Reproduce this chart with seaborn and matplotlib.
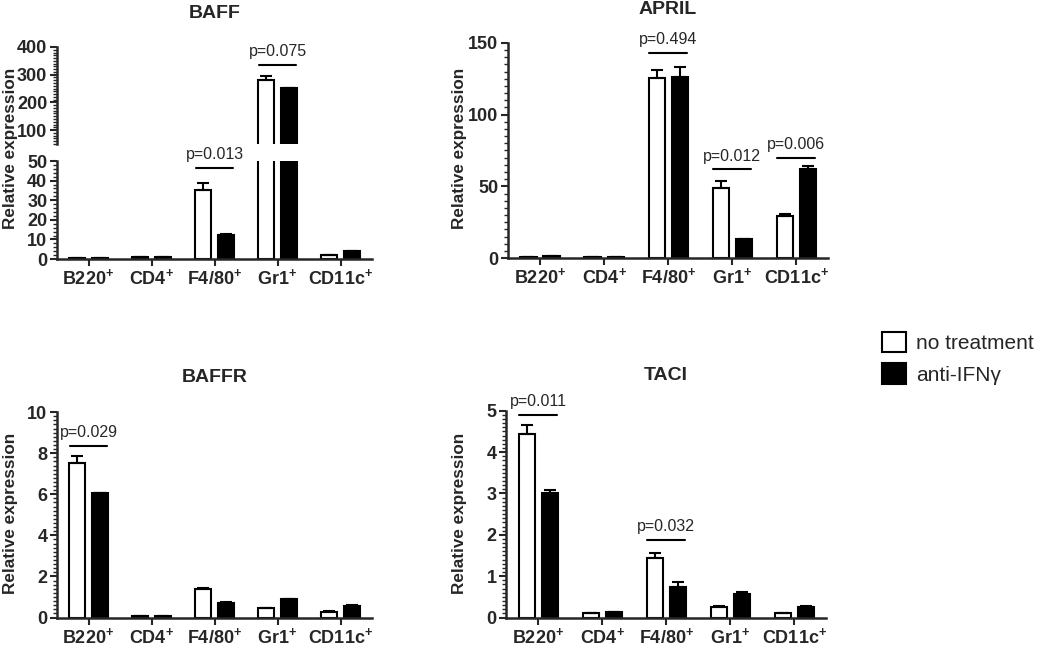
import numpy as np
import pandas as pd
import matplotlib
matplotlib.use("Agg")
import matplotlib.pyplot as plt
from matplotlib.ticker import MultipleLocator
import seaborn as sns

sns.set_style("ticks")
plt.rcParams['font.family'] = ['Liberation Sans', 'DejaVu Sans']
plt.rcParams['mathtext.default'] = 'regular'

cells = ["B220$^{+}$", "CD4$^{+}$", "F4/80$^{+}$", "Gr1$^{+}$", "CD11c$^{+}$"]
groups = ["no treatment", "anti-IFNγ"]

# valores (media e erro para cima)
baff_nt = [0.5, 0.8, 35.2, 282, 2.2]
baff_nt_err = [0, 0, 3.6, 12, 0]
baff_ab = [0.6, 0.8, 12.3, 253, 4.2]
baff_ab_err = [0, 0, 0.4, 0, 0]

april_nt = [0.8, 0.4, 125.6, 48.5, 29]
april_nt_err = [0, 0, 5.5, 5.5, 1.5]
april_ab = [1.2, 0.7, 126, 13, 62]
april_ab_err = [0, 0, 7.5, 0, 2.5]

baffr_nt = [7.5, 0.05, 1.38, 0.45, 0.28]
baffr_nt_err = [0.36, 0, 0.06, 0, 0.03]
baffr_ab = [6.05, 0.07, 0.7, 0.88, 0.58]
baffr_ab_err = [0, 0, 0.04, 0.02, 0.02]

taci_nt = [4.45, 0.12, 1.43, 0.26, 0.1]
taci_nt_err = [0.2, 0, 0.13, 0.01, 0.02]
taci_ab = [3.0, 0.14, 0.73, 0.58, 0.26]
taci_ab_err = [0.08, 0, 0.13, 0.03, 0.01]

# (indice da celula, altura da linha, texto)
baff_p = [(2, 46.5, "p=0.013"), (3, 336, "p=0.075")]
april_p = [(2, 143, "p=0.494"), (3, 62, "p=0.012"), (4, 70, "p=0.006")]
baffr_p = [(0, 8.35, "p=0.029")]
taci_p = [(0, 4.9, "p=0.011"), (2, 1.88, "p=0.032")]

pal = {"no treatment": "white", "anti-IFNγ": "black"}


def make_df(nt, ab):
    return pd.DataFrame({
        "cell": cells * 2,
        "group": [groups[0]] * 5 + [groups[1]] * 5,
        "value": list(nt) + list(ab),
    })


def bars(ax, nt, ab, nt_err, ab_err):
    df = make_df(nt, ab)
    sns.barplot(data=df, x="cell", y="value", hue="group", palette=pal,
                edgecolor="black", linewidth=1.5, width=0.72, gap=0.3,
                errorbar=None, ax=ax, legend=False)
    for cont, err in zip(ax.containers, [nt_err, ab_err]):
        xs = [p.get_x() + p.get_width() / 2 for p in cont.patches]
        ys = [p.get_height() for p in cont.patches]
        ax.errorbar(xs, ys, yerr=[np.zeros(5), err], fmt="none", ecolor="black",
                    elinewidth=1.5, capsize=4, capthick=1.5, zorder=1)
    ax.set_xlabel("")
    ax.set_ylabel("")
    ax.set_xlim(-0.5, 4.5)


def style(ax, bottom=True):
    sns.despine(ax=ax)
    for s in ["left", "bottom"]:
        ax.spines[s].set_linewidth(1.8)
    ax.tick_params(axis="y", which="major", length=5, width=1.5, labelsize=13, pad=2)
    ax.tick_params(axis="y", which="minor", length=3, width=1)
    ax.tick_params(axis="x", length=5, width=1.5, labelsize=13, pad=1.5)
    for lab in ax.get_yticklabels() + ax.get_xticklabels():
        lab.set_fontweight("bold")
    if not bottom:
        ax.spines["bottom"].set_visible(False)
        ax.tick_params(axis="x", which="both", bottom=False, labelbottom=False)


def pvals(ax, plist):
    for i, y, txt in plist:
        ax.plot([i - 0.3, i + 0.3], [y, y], color="black", lw=1.5, clip_on=False)
        ax.annotate(txt, (i, y), xytext=(0, 4), textcoords="offset points",
                    ha="center", va="bottom", fontsize=11.5, annotation_clip=False)


fig = plt.figure(figsize=(10.5, 6.5), dpi=100)

# BAFF com eixo quebrado
ax_lo = fig.add_axes([0.0543, 0.6015, 0.300, 0.1508])
ax_hi = fig.add_axes([0.0543, 0.7785, 0.300, 0.1492])
for ax in [ax_lo, ax_hi]:
    bars(ax, baff_nt, baff_ab, baff_nt_err, baff_ab_err)
ax_lo.set_ylim(0, 50)
ax_lo.yaxis.set_major_locator(MultipleLocator(10))
ax_lo.yaxis.set_minor_locator(MultipleLocator(2))
ax_hi.set_ylim(50, 400)
ax_hi.set_yticks([100, 200, 300, 400])
ax_hi.yaxis.set_minor_locator(MultipleLocator(10))
style(ax_lo)
style(ax_hi, bottom=False)
pvals(ax_lo, [baff_p[0]])
pvals(ax_hi, [baff_p[1]])

ax_ap = fig.add_axes([0.4838, 0.603, 0.305, 0.331])
bars(ax_ap, april_nt, april_ab, april_nt_err, april_ab_err)
ax_ap.set_ylim(0, 150)
ax_ap.yaxis.set_major_locator(MultipleLocator(50))
ax_ap.yaxis.set_minor_locator(MultipleLocator(5))
style(ax_ap)
pvals(ax_ap, april_p)

ax_br = fig.add_axes([0.0543, 0.05, 0.300, 0.316])
bars(ax_br, baffr_nt, baffr_ab, baffr_nt_err, baffr_ab_err)
ax_br.set_ylim(0, 10)
ax_br.yaxis.set_major_locator(MultipleLocator(2))
ax_br.yaxis.set_minor_locator(MultipleLocator(0.2))
style(ax_br)
pvals(ax_br, baffr_p)

ax_tc = fig.add_axes([0.482, 0.05, 0.305, 0.318])
bars(ax_tc, taci_nt, taci_ab, taci_nt_err, taci_ab_err)
ax_tc.set_ylim(0, 5)
ax_tc.yaxis.set_major_locator(MultipleLocator(1))
ax_tc.yaxis.set_minor_locator(MultipleLocator(0.1))
style(ax_tc)
pvals(ax_tc, taci_p)

# titulos e rotulos
fig.text(0.204, 0.98, "BAFF", ha="center", va="center", fontsize=14, fontweight="bold")
fig.text(0.636, 0.985, "APRIL", ha="center", va="center", fontsize=14, fontweight="bold")
fig.text(0.204, 0.42, "BAFFR", ha="center", va="center", fontsize=14, fontweight="bold")
fig.text(0.634, 0.423, "TACI", ha="center", va="center", fontsize=14, fontweight="bold")
for x, y in [(0.010, 0.771), (0.438, 0.772), (0.010, 0.21), (0.438, 0.21)]:
    fig.text(x, y, "Relative expression", rotation=90, ha="center", va="center",
             fontsize=12.3, fontweight="bold")

# legenda
handles = [plt.Rectangle((0, 0), 1, 1, facecolor=pal[g], edgecolor="black", lw=1.5)
           for g in groups]
fig.legend(handles, groups, loc="center left", bbox_to_anchor=(0.822, 0.449),
           frameon=False, fontsize=15, handlelength=1.15, handleheight=1.15,
           handletextpad=0.5, labelspacing=0.5)

fig.savefig("out.png", dpi=100)
